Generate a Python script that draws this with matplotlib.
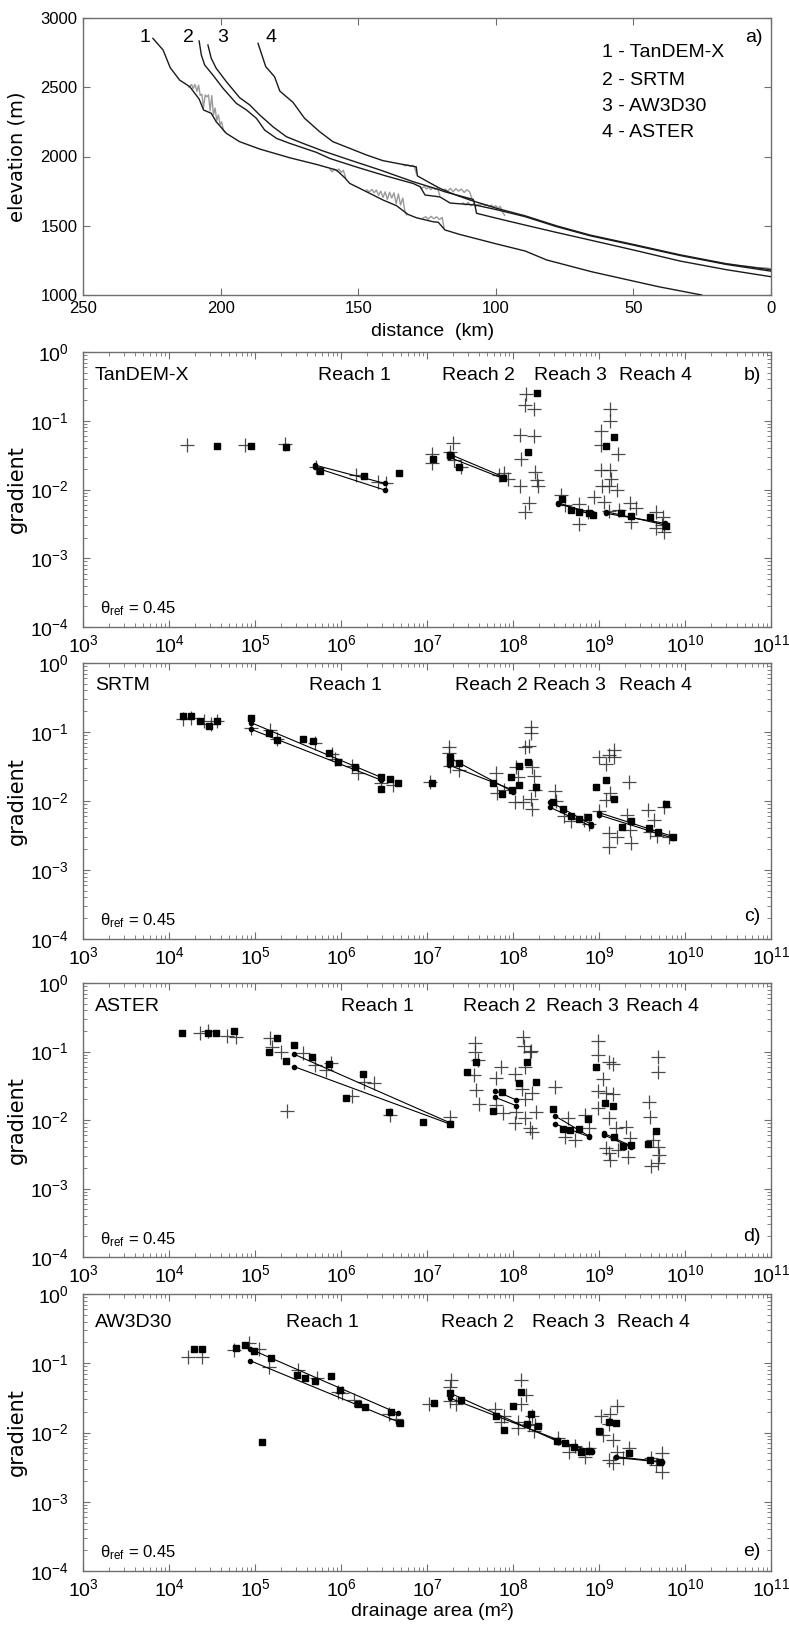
import numpy as np
import matplotlib
matplotlib.use('Agg')
import matplotlib.pyplot as plt
from matplotlib.ticker import NullFormatter, FixedLocator, LogFormatterSciNotation

plt.rcParams['font.family'] = ['Liberation Sans', 'DejaVu Sans']
plt.rcParams['mathtext.fontset'] = 'custom'
plt.rcParams['mathtext.rm'] = 'Liberation Sans'
plt.rcParams['mathtext.it'] = 'Liberation Sans:italic'
plt.rcParams['mathtext.bf'] = 'Liberation Sans:bold'

# ---------------- panel a: long profiles (distance km, elevation m) ----------------
p1_dist = [224.6, 220.9, 218.3, 214.9, 211.2, 207.8, 206.2, 203.4, 201.6, 197.9, 193.1, 185.8, 174.9, 165.2,
           157.9, 154.9, 153.1, 145.8, 141.0, 136.1, 131.9, 128.9, 122.8, 120.9, 118.5, 113.6, 100.0, 89.4,
           81.5, 65.2, 40.9, 25.2]
p1_elev = [2853, 2769, 2641, 2552, 2504, 2415, 2336, 2312, 2251, 2167, 2107, 2054, 1991, 1943,
           1902, 1847, 1806, 1734, 1686, 1645, 1582, 1558, 1529, 1525, 1470, 1440, 1370, 1318,
           1253, 1168, 1060, 1000]
p2_dist = [207.8, 207.0, 205.8, 202.8, 199.1, 194.3, 190.6, 187.0, 184.0, 179.7, 174.9, 165.2, 160.2, 150.0,
           140.0, 130.0, 127.5, 125.7, 120.3, 116.6, 107.6, 107.0, 99.7, 89.4, 78.0, 65.8, 50.0, 33.0, 16.0, 0.0]
p2_elev = [2834, 2733, 2661, 2588, 2492, 2384, 2336, 2276, 2191, 2131, 2095, 2030, 1985, 1920,
           1860, 1805, 1782, 1722, 1708, 1664, 1650, 1590, 1554, 1505, 1452, 1397, 1325, 1245, 1182, 1132]
p3_dist = [204.6, 203.4, 201.6, 197.9, 193.1, 189.4, 185.8, 181.0, 176.1, 170.1, 162.8, 153.1, 142.1, 130.0,
           120.3, 118.5, 108.2, 107.6, 99.7, 89.4, 78.0, 65.8, 50.0, 33.0, 16.0, 0.0]
p3_elev = [2805, 2709, 2637, 2540, 2425, 2372, 2300, 2215, 2143, 2095, 2040, 1975, 1903, 1818,
           1758, 1745, 1690, 1650, 1616, 1566, 1494, 1428, 1360, 1285, 1220, 1172]
p4_dist = [186.4, 184.6, 183.6, 180.4, 178.5, 173.7, 169.5, 164.0, 159.2, 153.1, 147.0, 141.0, 136.0, 128.9,
           128.5, 124.0, 120.3, 115.0, 109.4, 99.7, 89.4, 78.0, 65.8, 50.0, 33.0, 16.0, 0.0]
p4_elev = [2817, 2709, 2649, 2576, 2473, 2391, 2276, 2179, 2107, 2059, 2011, 1970, 1951, 1925,
           1860, 1810, 1770, 1725, 1686, 1626, 1572, 1500, 1433, 1365, 1290, 1225, 1182]

# raw (grey) stretches where the unsmoothed profile departs from the smoothed one
g1a_dist = [211.5, 210.5, 210.0, 209.3, 208.6, 208.0, 207.4, 206.8, 206.2, 205.6, 205.0, 204.4, 203.8, 203.2,
            202.6, 202.0, 201.4, 200.8, 200.2, 199.6, 199.0, 198.4]
g1a_elev = [2500, 2520, 2490, 2520, 2470, 2515, 2440, 2450, 2350, 2445, 2430, 2445, 2330, 2440,
            2300, 2350, 2260, 2300, 2230, 2250, 2190, 2175]
g1b_dist = [160.2, 159.4, 158.6, 157.8, 157.0, 156.2, 155.4, 154.6]
g1b_elev = [1905, 1890, 1908, 1895, 1910, 1885, 1900, 1850]
g1c_dist = [147.0, 146.0, 145.0, 144.2, 143.4, 142.6, 141.8, 141.0, 140.2, 139.4, 138.6, 137.8, 137.0, 136.2,
            135.4, 134.6, 133.8, 133.0, 132.4]
g1c_elev = [1760, 1745, 1762, 1738, 1758, 1720, 1750, 1705, 1745, 1690, 1742, 1700, 1738, 1660,
            1730, 1650, 1700, 1600, 1578]
g1d_dist = [126.5, 125.5, 124.5, 123.5, 122.5, 121.5, 120.5, 119.5, 118.8]
g1d_elev = [1555, 1565, 1548, 1568, 1550, 1565, 1545, 1560, 1485]
g2a_dist = [127.5, 126.8, 126.0, 125.2, 124.4, 123.6, 122.8, 122.0, 121.2, 120.4]
g2a_elev = [1782, 1770, 1785, 1765, 1780, 1760, 1778, 1762, 1775, 1720]
g2b_dist = [112.0, 111.0, 110.0, 109.0, 108.0, 107.2, 106.4, 105.6, 104.8, 104.0, 103.2, 102.4, 101.6, 100.8,
            100.0, 99.2, 98.4, 97.6, 96.8]
g2b_elev = [1665, 1650, 1668, 1645, 1660, 1640, 1655, 1650, 1658, 1645, 1652, 1640, 1650, 1635,
            1645, 1625, 1640, 1600, 1575]
g3a_dist = [118.5, 117.5, 116.5, 115.5, 114.5, 113.5, 112.5, 111.5, 110.5, 109.5, 108.6]
g3a_elev = [1765, 1750, 1770, 1745, 1768, 1750, 1765, 1740, 1760, 1745, 1690]
g4a_dist = [133.5, 132.8, 132.0, 131.2, 130.4, 129.6, 128.9]
g4a_elev = [1938, 1932, 1940, 1930, 1937, 1928, 1880]
g4b_dist = [20.0, 17.0, 14.0, 11.0, 8.0, 5.0, 2.0, 0.0]
g4b_elev = [1238, 1226, 1220, 1210, 1206, 1198, 1196, 1190]

profile_ids = ['1', '2', '3', '4']
profile_label_dist = [227.6, 211.8, 199.1, 181.6]
legend_lines = ['1 - TanDEM-X', '2 - SRTM', '3 - AW3D30', '4 - ASTER']
legend_y = [0.874, 0.776, 0.679, 0.588]
dist_ticks = [250, 200, 150, 100, 50, 0]
elev_ticks = [1000, 1500, 2000, 2500, 3000]

# ---------------- panels b-e: slope-area data (log10 area m2, log10 gradient) ----------------
area_ticks = [1e3, 1e4, 1e5, 1e6, 1e7, 1e8, 1e9, 1e10, 1e11]
grad_ticks = [1e-4, 1e-3, 1e-2, 1e-1, 1e0]

# panel b: TanDEM-X
sq_b_A = [4.554, 4.954, 5.363, 5.760, 6.263, 6.671, 7.064, 7.272, 7.370, 7.881, 8.176, 8.274, 8.569, 8.679,
          8.773, 8.883, 8.930, 9.079, 9.177, 9.256, 9.374, 9.590, 9.775]
sq_b_g = [-1.367, -1.367, -1.377, -1.726, -1.799, -1.755, -1.556, -1.498, -1.678, -1.838, -1.459, -0.592,
          -2.138, -2.298, -2.322, -2.347, -2.371, -1.362, -1.232, -2.347, -2.385, -2.395, -2.526]
pl_b_A = [4.208, 4.884, 5.347, 5.709, 6.172, 6.428, 6.518, 7.056, 7.056, 7.304, 7.272, 7.319, 7.398, 7.842,
          7.901, 7.940, 8.077, 8.089, 8.077, 8.156, 8.144, 8.246, 8.246, 8.184, 8.144, 8.254, 8.274, 8.293,
          8.561, 8.608, 8.765, 8.773, 8.875, 8.942, 9.020, 9.020, 9.126, 9.126, 9.217, 9.020, 9.126, 9.032,
          9.111, 9.138, 9.060, 9.119, 9.205, 9.236, 9.362, 9.374, 9.425, 9.668, 9.668, 9.727, 9.747, 9.755]
pl_b_g = [-1.353, -1.353, -1.338, -1.678, -1.789, -1.886, -1.910, -1.484, -1.610, -1.319, -1.450, -1.571,
          -1.678, -1.789, -1.755, -1.852, -1.207, -1.561, -1.949, -0.611, -0.771, -0.834, -1.222, -2.201,
          -2.332, -1.741, -1.862, -1.949, -2.080, -2.226, -2.211, -2.502, -2.322, -2.104, -1.144, -1.353,
          -0.834, -1.004, -1.484, -1.716, -1.716, -1.949, -1.949, -1.852, -2.177, -2.308, -2.007, -2.298,
          -2.201, -2.468, -2.274, -2.322, -2.565, -2.516, -2.395, -2.613]
fit_b_A = [[5.693, 6.506], [5.693, 6.506], [7.260, 7.881], [7.260, 7.881],
           [8.529, 8.922], [8.529, 8.922], [9.079, 9.767], [9.079, 9.767]]
fit_b_g = [[-1.644, -1.910], [-1.678, -2.007], [-1.484, -1.813], [-1.532, -1.838],
           [-2.192, -2.371], [-2.211, -2.337], [-2.322, -2.516], [-2.347, -2.492]]

# panel c: SRTM
sq_c_A = [4.161, 4.255, 4.365, 4.463, 4.562, 4.954, 5.159, 5.261, 5.563, 5.669, 5.858, 5.964, 6.164, 6.467,
          6.467, 6.565, 6.663, 7.056, 7.264, 7.272, 7.370, 7.763, 7.869, 7.987, 7.971, 8.066, 8.066, 8.176,
          8.262, 8.470, 8.576, 8.678, 8.765, 8.875, 8.969, 9.079, 9.177, 9.268, 9.374, 9.582, 9.688, 9.778,
          9.865]
sq_c_g = [-0.768, -0.768, -0.836, -0.913, -0.836, -0.802, -1.019, -1.116, -1.106, -1.126, -1.309, -1.430,
          -1.512, -1.657, -1.831, -1.686, -1.734, -1.734, -1.367, -1.430, -1.454, -1.734, -1.899, -1.841,
          -1.657, -1.493, -1.768, -1.430, -1.792, -2.010, -2.121, -2.217, -2.266, -2.237, -1.802, -1.696,
          -1.976, -2.372, -2.285, -2.396, -2.445, -2.043, -2.527]
pl_c_A = [4.161, 4.255, 4.404, 4.483, 4.554, 4.954, 5.171, 5.261, 5.701, 5.897, 5.936, 6.133, 6.192, 6.467,
          6.604, 7.036, 7.253, 7.253, 7.272, 7.370, 7.803, 7.814, 7.901, 8.018, 8.038, 8.058, 8.117, 8.136,
          8.207, 8.207, 8.184, 8.223, 8.246, 8.254, 8.223, 8.207, 8.490, 8.498, 8.588, 8.678, 8.824, 8.883,
          9.001, 9.087, 9.118, 9.177, 9.177, 9.079, 9.126, 9.001, 9.111, 9.205, 9.111, 9.346, 9.323, 9.362,
          9.374, 9.570, 9.590, 9.637, 9.676, 9.755, 9.818]
pl_c_g = [-0.816, -0.802, -0.836, -0.884, -0.836, -0.947, -0.971, -1.106, -1.155, -1.319, -1.396, -1.493,
          -1.599, -1.744, -1.768, -1.720, -1.213, -1.309, -1.493, -1.551, -1.599, -1.889, -1.841, -2.010,
          -1.502, -1.657, -2.010, -1.213, -0.932, -1.010, -1.203, -1.502, -1.638, -1.841, -2.121, -1.976,
          -1.850, -1.995, -2.217, -2.285, -2.275, -2.333, -1.367, -1.464, -1.333, -1.261, -1.367, -1.986,
          -1.879, -2.140, -2.459, -2.517, -2.662, -1.720, -2.203, -2.420, -2.604, -2.130, -2.444, -2.275,
          -2.507, -2.092, -2.517]
fit_c_A = [[4.955, 6.466], [4.955, 6.466], [7.252, 7.999], [7.252, 7.999],
           [8.431, 8.902], [8.431, 8.902], [9.001, 9.865], [9.001, 9.865]]
fit_c_g = [[-0.865, -1.657], [-0.961, -1.696], [-1.367, -1.865], [-1.478, -1.841],
           [-2.092, -2.362], [-2.010, -2.333], [-2.203, -2.541], [-2.169, -2.517]]

# panel d: ASTER
sq_d_A = [4.149, 4.452, 4.542, 4.750, 5.159, 5.261, 5.355, 5.457, 5.661, 5.858, 6.054, 6.259, 6.557, 6.958,
          7.264, 7.469, 7.567, 7.763, 7.869, 8.066, 8.168, 8.262, 8.470, 8.576, 8.667, 8.765, 8.875, 8.969,
          9.071, 9.165, 9.177, 9.276, 9.374, 9.570, 9.668]
sq_d_g = [-0.725, -0.725, -0.725, -0.696, -1.012, -0.808, -1.134, -0.905, -1.075, -1.187, -1.684, -1.333,
          -1.878, -2.024, -2.058, -1.294, -1.148, -1.864, -1.586, -1.455, -1.158, -1.445, -1.844, -2.136,
          -2.146, -2.136, -1.985, -1.231, -1.747, -1.791, -2.243, -2.380, -2.365, -2.350, -2.161]
pl_d_A = [4.357, 4.452, 4.679, 4.778, 5.170, 5.198, 5.300, 5.367, 5.563, 5.701, 5.827, 5.878, 6.133, 6.270,
          6.388, 6.565, 7.272, 7.555, 7.555, 7.594, 7.547, 7.567, 7.606, 7.802, 7.861, 7.802, 7.881, 8.026,
          8.117, 8.129, 8.195, 8.215, 8.144, 8.105, 8.136, 8.223, 8.262, 8.038, 8.026, 8.136, 8.195, 8.223,
          8.490, 8.639, 8.600, 8.726, 8.843, 8.883, 8.993, 8.993, 9.111, 9.158, 9.048, 8.993, 9.087, 9.158,
          8.993, 9.118, 9.197, 9.079, 9.118, 9.217, 9.126, 9.315, 9.362, 9.334, 9.582, 9.598, 9.688, 9.688,
          9.629, 9.688, 9.700, 9.609, 9.688]
pl_d_g = [-0.725, -0.696, -0.774, -0.793, -0.808, -0.929, -1.002, -1.864, -1.017, -1.197, -1.270, -1.173,
          -1.650, -1.440, -1.455, -1.927, -1.951, -0.871, -1.002, -1.124, -1.343, -1.562, -1.766, -1.392,
          -1.231, -1.781, -1.903, -1.328, -0.793, -0.920, -1.002, -0.988, -1.231, -1.552, -1.698, -1.601,
          -1.878, -1.878, -2.049, -1.976, -2.122, -2.170, -1.513, -1.976, -2.243, -2.292, -1.927, -2.122,
          -0.842, -1.051, -1.148, -1.183, -1.406, -1.572, -1.611, -1.620, -1.830, -1.976, -2.122, -2.404,
          -2.487, -2.438, -2.584, -2.107, -2.268, -2.535, -1.732, -1.961, -1.085, -1.294, -2.292, -2.389,
          -2.511, -2.672, -2.633]
fit_d_A = [[5.457, 7.264], [5.457, 7.264], [7.791, 8.038], [7.791, 8.038],
           [8.490, 8.883], [8.490, 8.883], [9.060, 9.373], [9.060, 9.373]]
fit_d_g = [[-1.041, -2.039], [-1.222, -2.058], [-1.572, -1.708], [-1.669, -1.791],
           [-1.942, -2.234], [-2.058, -2.243], [-2.195, -2.380], [-2.219, -2.399]]

# panel e: AW3D30
sq_e_A = [4.287, 4.385, 4.778, 4.884, 4.986, 5.190, 5.485, 5.583, 5.693, 5.889, 5.984, 6.192, 6.282, 6.585,
          6.683, 5.080, 7.084, 7.272, 7.398, 7.803, 7.893, 7.999, 8.097, 8.207, 8.168, 8.293, 8.510, 8.600,
          8.706, 8.796, 8.883, 9.001, 9.111, 9.197, 9.354, 9.590, 9.708]
sq_e_g = [-0.794, -0.794, -0.775, -0.737, -0.823, -0.919, -1.170, -1.208, -1.256, -1.179, -1.386, -1.593,
          -1.627, -1.709, -1.868, -2.132, -1.579, -1.434, -1.531, -1.757, -1.964, -1.612, -1.410, -1.737,
          -1.882, -1.901, -2.123, -2.156, -2.205, -2.277, -2.267, -1.978, -1.843, -1.858, -2.301, -2.397,
          -2.421]
pl_e_A = [4.216, 4.385, 4.758, 4.935, 5.041, 5.163, 5.504, 5.720, 5.968, 6.015, 6.153, 6.557, 6.636, 7.029,
          7.280, 7.272, 7.272, 7.343, 7.791, 7.861, 7.901, 8.097, 8.156, 8.089, 8.058, 8.058, 8.223, 8.254,
          8.246, 8.184, 8.521, 8.647, 8.726, 8.883, 8.836, 9.020, 9.126, 9.205, 9.118, 9.048, 9.158, 9.205,
          9.118, 9.158, 9.354, 9.276, 9.609, 9.668, 9.727, 9.727]
pl_e_g = [-0.905, -0.905, -0.809, -0.712, -0.794, -1.049, -1.097, -1.218, -1.410, -1.434, -1.531, -1.738,
          -1.805, -1.593, -1.242, -1.338, -1.545, -1.593, -1.661, -1.844, -1.757, -1.242, -1.458, -1.593,
          -1.853, -1.940, -1.757, -1.892, -1.978, -1.882, -2.084, -2.277, -2.190, -2.219, -2.349, -1.757,
          -1.738, -1.612, -1.882, -2.036, -2.108, -2.277, -2.397, -2.445, -2.229, -2.363, -2.373, -2.469,
          -2.301, -2.566]
fit_e_A = [[4.943, 6.663], [4.943, 6.663], [7.272, 8.529], [7.272, 8.529],
           [8.529, 8.922], [8.529, 8.922], [9.198, 9.727], [9.198, 9.727]]
fit_e_g = [[-0.794, -1.723], [-0.963, -1.844], [-1.434, -2.133], [-1.507, -2.108],
           [-2.124, -2.267], [-2.138, -2.281], [-2.349, -2.421], [-2.360, -2.430]]

dem_names = ['TanDEM-X', 'SRTM', 'ASTER', 'AW3D30']
panel_letters = ['b)', 'c)', 'd)', 'e)']
reach_names = ['Reach 1', 'Reach 2', 'Reach 3', 'Reach 4']
reach_x = [[0.342, 0.522, 0.656, 0.779],
           [0.328, 0.541, 0.654, 0.779],
           [0.375, 0.552, 0.673, 0.789],
           [0.295, 0.520, 0.653, 0.776]]
theta_text = '\u03b8$_{\\mathrm{ref}}$ = 0.45'

# ---------------- figure ----------------
W, H = 789, 1625
fig = plt.figure(figsize=(W / 100, H / 100), dpi=100)

def frac(l, t, r, b):
    return [l / W, 1 - b / H, (r - l) / W, (b - t) / H]

spine_col = '#6e6e6e'

axa = fig.add_axes(frac(83, 18, 771, 295))
grey_sets = [(g1a_dist, g1a_elev), (g1b_dist, g1b_elev), (g1c_dist, g1c_elev), (g1d_dist, g1d_elev),
             (g2a_dist, g2a_elev), (g2b_dist, g2b_elev), (g3a_dist, g3a_elev), (g4a_dist, g4a_elev),
             (g4b_dist, g4b_elev)]
for gd, ge in grey_sets:
    axa.plot(gd, ge, color='#9a9a9a', lw=1.0, zorder=2)
for pd_, pe in [(p1_dist, p1_elev), (p2_dist, p2_elev), (p3_dist, p3_elev), (p4_dist, p4_elev)]:
    axa.plot(pd_, pe, color='#1a1a1a', lw=1.0, zorder=3)
axa.set_xlim(250, 0)
axa.set_ylim(1000, 3000)
axa.xaxis.set_major_locator(FixedLocator(dist_ticks))
axa.yaxis.set_major_locator(FixedLocator(elev_ticks))
axa.tick_params(direction='in', length=5, width=0.8, top=True, right=True, labelsize=12,
                color=spine_col, pad=4)
for s in axa.spines.values():
    s.set_color(spine_col)
    s.set_linewidth(1.0)
for lab, d in zip(profile_ids, profile_label_dist):
    axa.text(d, 2858, lab, fontsize=14, ha='center', va='center')
for t, yy in zip(legend_lines, legend_y):
    axa.text(0.754, yy, t, transform=axa.transAxes, fontsize=14, ha='left', va='center')
axa.text(0.988, 0.928, 'a)', transform=axa.transAxes, fontsize=14, ha='right', va='center')
fig.text(17 / W, 1 - 157 / H, 'elevation (m)', rotation=90, ha='center', va='center',
         fontsize=14, family='DejaVu Sans')
fig.text(433 / W, 1 - 332 / H, 'distance  (km)', ha='center', va='center', fontsize=14)

panel_boxes = [(352, 627), (663, 939), (983, 1257), (1294, 1571)]
panel_data = [(sq_b_A, sq_b_g, pl_b_A, pl_b_g, fit_b_A, fit_b_g),
              (sq_c_A, sq_c_g, pl_c_A, pl_c_g, fit_c_A, fit_c_g),
              (sq_d_A, sq_d_g, pl_d_A, pl_d_g, fit_d_A, fit_d_g),
              (sq_e_A, sq_e_g, pl_e_A, pl_e_g, fit_e_A, fit_e_g)]
name_y = [0.916, 0.92, 0.913, 0.896]
letter_y = [0.916, 0.081, 0.074, 0.07]
minor_subs = [2, 3, 4, 5, 6, 7, 8, 9]

for k, ((top, bot), (sA, sg, pA, pg, fA, fg)) in enumerate(zip(panel_boxes, panel_data)):
    ax = fig.add_axes(frac(83, top, 771, bot))
    ax.set_xscale('log')
    ax.set_yscale('log')
    ax.plot(10 ** np.array(pA), 10 ** np.array(pg), linestyle='none', marker='+', ms=9.5, mew=0.9,
            color='#2a2a2a', alpha=0.85, zorder=2)
    ax.plot(10 ** np.array(sA), 10 ** np.array(sg), linestyle='none', marker='s', ms=4.4,
            color='black', zorder=3)
    for xa, ya in zip(fA, fg):
        ax.plot(10 ** np.array(xa), 10 ** np.array(ya), '-', color='black', lw=0.8,
                marker='o', ms=3.0, zorder=4)
    ax.set_xlim(area_ticks[0], area_ticks[-1])
    ax.set_ylim(grad_ticks[0], grad_ticks[-1])
    ax.xaxis.set_major_locator(FixedLocator(area_ticks))
    ax.yaxis.set_major_locator(FixedLocator(grad_ticks))
    ax.xaxis.set_major_formatter(LogFormatterSciNotation())
    ax.yaxis.set_major_formatter(LogFormatterSciNotation())
    ax.xaxis.set_minor_locator(FixedLocator([m * t for t in area_ticks[:-1] for m in minor_subs]))
    ax.yaxis.set_minor_locator(FixedLocator([m * t for t in grad_ticks[:-1] for m in minor_subs]))
    ax.xaxis.set_minor_formatter(NullFormatter())
    ax.yaxis.set_minor_formatter(NullFormatter())
    ax.tick_params(which='major', direction='in', length=5, width=0.8, top=True, right=True,
                   labelsize=14, color=spine_col)
    ax.tick_params(axis='x', which='major', pad=5)
    ax.tick_params(axis='y', which='major', pad=10)
    ax.tick_params(which='minor', direction='in', length=3, width=0.6, top=True, right=True,
                   color=spine_col)
    for s in ax.spines.values():
        s.set_color(spine_col)
        s.set_linewidth(1.0)
    ax.text(0.017, name_y[k], dem_names[k], transform=ax.transAxes, fontsize=14,
            ha='left', va='center')
    for rn, rx in zip(reach_names, reach_x[k]):
        ax.text(rx, name_y[k], rn, transform=ax.transAxes, fontsize=14, ha='left', va='center')
    ax.text(0.985, letter_y[k], panel_letters[k], transform=ax.transAxes, fontsize=14,
            ha='right', va='center')
    ax.text(0.025, 0.065, theta_text, transform=ax.transAxes, fontsize=12, ha='left', va='center')
    fig.text(17 / W, 1 - (top + bot) / 2 / H, 'gradient', rotation=90, ha='center', va='center',
             fontsize=15, family='DejaVu Sans')

fig.text(432 / W, 1 - 1611 / H, 'drainage area (m\u00b2)', ha='center', va='center', fontsize=14)

fig.savefig('out.png', dpi=100)
